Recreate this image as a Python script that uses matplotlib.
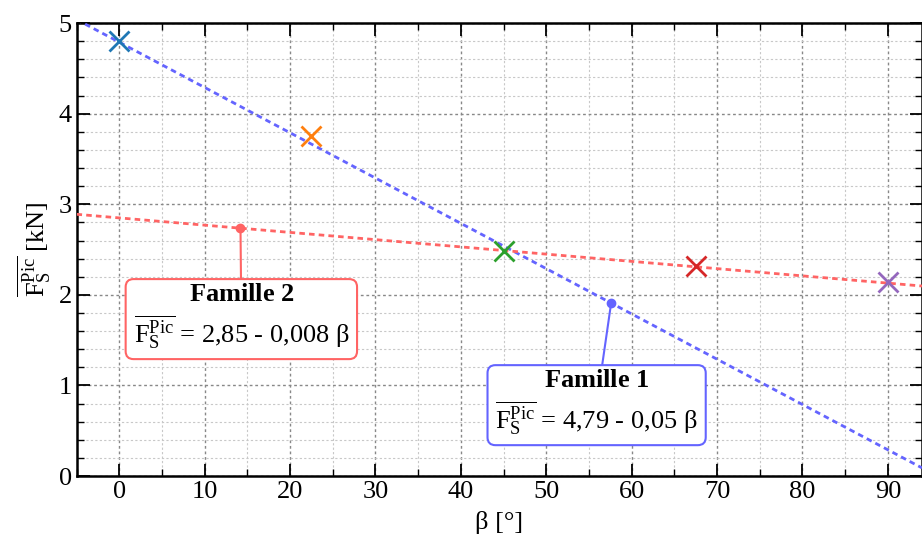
import numpy as np
import matplotlib
matplotlib.use("Agg")
from matplotlib import pyplot as plt
from matplotlib.ticker import MultipleLocator

plt.rcParams['font.family'] = 'serif'
plt.rcParams['font.serif'] = ['Liberation Serif', 'Times New Roman', 'DejaVu Serif']
plt.rcParams['mathtext.fontset'] = 'custom'
plt.rcParams['mathtext.rm'] = 'Liberation Serif'
plt.rcParams['mathtext.it'] = 'Liberation Serif:italic'
plt.rcParams['mathtext.bf'] = 'Liberation Serif:bold'

# measured points
beta = [0, 22.5, 45, 67.5, 90]
force = [4.80, 3.75, 2.48, 2.32, 2.14]
colors = ['tab:blue', 'tab:orange', 'tab:green', 'tab:red', 'tab:purple']

# linear fits
fam1 = (4.79, -0.05)
fam2 = (2.85, -0.008)
fam1_pt = 57.6
fam2_pt = 14.2

fig, ax = plt.subplots(figsize=(9.22, 5.51), dpi=100)

xs = np.array([-5, 94])
ax.plot(xs, fam1[0] + fam1[1] * xs, color='#6464ff', lw=2, ls=(0, (2, 1.5)), zorder=3)
ax.plot(xs, fam2[0] + fam2[1] * xs, color='#ff6464', lw=2, ls=(0, (2, 1.5)), zorder=3)

for b, f, c in zip(beta, force, colors):
    ax.plot(b, f, 'x', color=c, ms=15, mew=2, zorder=4)

lab = r'$\overline{\mathrm{F}_\mathrm{S}^\mathrm{Pic}}$'

ax.plot(fam2_pt, fam2[0] + fam2[1] * fam2_pt, 'o', color='#ff6464', ms=6, zorder=5)
ax.annotate('$\\mathbf{Famille\\ 2}$\n' + lab + ' = 2,85 - 0,008 β',
            xy=(fam2_pt, fam2[0] + fam2[1] * fam2_pt), xytext=(14.3, 1.75),
            ha='center', va='center', fontsize=19, linespacing=1.25,
            bbox=dict(boxstyle='round,pad=0.3', fc='white', ec='#ff6464', lw=1.5),
            arrowprops=dict(arrowstyle='-', color='#ff6464', lw=1.5, shrinkA=0, shrinkB=0),
            zorder=6)

ax.plot(fam1_pt, fam1[0] + fam1[1] * fam1_pt, 'o', color='#6464ff', ms=6, zorder=5)
ax.annotate('$\\mathbf{Famille\\ 1}$\n' + lab + ' = 4,79 - 0,05 β',
            xy=(fam1_pt, fam1[0] + fam1[1] * fam1_pt), xytext=(55.9, 0.8),
            ha='center', va='center', fontsize=19, linespacing=1.25,
            bbox=dict(boxstyle='round,pad=0.3', fc='white', ec='#6464ff', lw=1.5),
            arrowprops=dict(arrowstyle='-', color='#6464ff', lw=1.5, shrinkA=0, shrinkB=0),
            zorder=6)

ax.set_xlim(-5, 94)
ax.set_ylim(0, 5)
ax.xaxis.set_major_locator(MultipleLocator(10))
ax.xaxis.set_minor_locator(MultipleLocator(5))
ax.yaxis.set_major_locator(MultipleLocator(1))
ax.yaxis.set_minor_locator(MultipleLocator(0.2))
ax.grid(which='major', ls=(0, (2, 2)), color='#888888', lw=1)
ax.grid(which='minor', ls=(0, (2, 2)), color='#c8c8c8', lw=0.8)
ax.tick_params(which='both', direction='in', top=True, right=True, labelsize=19)
ax.tick_params(which='major', length=9, width=1.3)
ax.tick_params(which='minor', length=5, width=1)
for s in ax.spines.values():
    s.set_linewidth(1.8)

ax.set_xlabel('β [°]', fontsize=19, labelpad=6)
ax.set_ylabel(lab + ' [kN]', fontsize=19)

fig.subplots_adjust(left=0.083, right=1.0, top=0.958, bottom=0.136)
fig.savefig('out.png')
